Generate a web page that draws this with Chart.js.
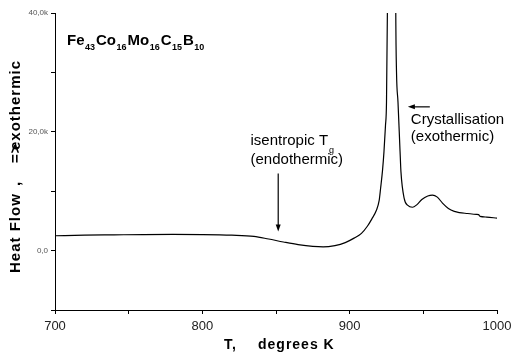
<!DOCTYPE html>
<html>
<head>
<meta charset="utf-8">
<script src="https://cdn.jsdelivr.net/npm/chart.js@4.4.1/dist/chart.umd.min.js"></script>
<style>
html, body { margin: 0; padding: 0; background: #fff; }
#wrap { width: 511px; height: 354px; }
</style>
</head>
<body>
<div id="wrap"><canvas id="dscChart"></canvas></div>
<script>
// DSC trace, temperature (K) vs heat flow
var temps = [700, 720, 740, 760, 780, 800, 820, 835, 845, 855, 865, 875, 882, 890, 897, 903, 908, 912, 915, 918,
    920, 921, 922.3, 923.3, 924.3, 925, 925.6, 926, 928.5, 931, 931.3, 931.8, 932.8, 934.2, 934.8, 937, 939.5,
    942.6, 945.5, 949, 953, 956.2, 959.5, 963, 967, 971, 974.4, 980, 986, 987.5, 988.5, 993, 1000];
var heatFlow = [2500, 2600, 2650, 2700, 2720, 2700, 2600, 2400, 1950, 1450, 1000, 700, 620, 850, 1350, 2100, 2900, 4100, 5300, 6700,
    8400, 10500, 13500, 16700, 21000, 25000, 40000, 60000, 80000, 60000, 40000, 30000, 25000, 16700, 13300, 8800, 7600,
    7300, 7700, 8600, 9200, 9350, 9000, 8000, 7100, 6600, 6400, 6250, 6100, 6050, 5750, 5650, 5450];

var xLabelValues = [700, 800, 900, 1000];
var yLabelValues = [0, 20000, 40000];
var yLabelTexts = ["0,0", "20,0k", "40,0k"];

var formulaParts = [["Fe", "43"], ["Co", "16"], ["Mo", "16"], ["C", "15"], ["B", "10"]];

var FONT = "'Liberation Sans', Arial, sans-serif";

function arrow(ctx, x1, y1, x2, y2) {
    var ang = Math.atan2(y2 - y1, x2 - x1);
    ctx.beginPath();
    ctx.moveTo(x1, y1);
    ctx.lineTo(x2 - 4 * Math.cos(ang), y2 - 4 * Math.sin(ang));
    ctx.lineWidth = 1.2;
    ctx.stroke();
    ctx.beginPath();
    ctx.moveTo(x2, y2);
    ctx.lineTo(x2 - 7 * Math.cos(ang) + 2.5 * Math.sin(ang), y2 - 7 * Math.sin(ang) - 2.5 * Math.cos(ang));
    ctx.lineTo(x2 - 7 * Math.cos(ang) - 2.5 * Math.sin(ang), y2 - 7 * Math.sin(ang) + 2.5 * Math.cos(ang));
    ctx.closePath();
    ctx.fill();
}

var annotate = {
    id: 'annotate',
    afterDraw: function (chart) {
        var ctx = chart.ctx, xs = chart.scales.x, ys = chart.scales.y, a = chart.chartArea;
        ctx.save();
        ctx.fillStyle = '#000';
        ctx.strokeStyle = '#000';

        // alloy formula
        var fx = a.left + 12, fy = a.top + 32;
        ctx.textBaseline = 'alphabetic';
        ctx.textAlign = 'left';
        formulaParts.forEach(function (p) {
            ctx.font = 'bold 15px ' + FONT;
            ctx.fillText(p[0], fx, fy);
            fx += ctx.measureText(p[0]).width + 0.5;
            ctx.font = 'bold 9px ' + FONT;
            ctx.fillText(p[1], fx, fy + 5);
            fx += ctx.measureText(p[1]).width + 1;
        });

        // glass transition note
        ctx.font = '15px ' + FONT;
        ctx.textBaseline = 'middle';
        var tx = xs.getPixelForValue(832.7);
        ctx.fillText('isentropic T', tx, ys.getPixelForValue(18500));
        var tw = ctx.measureText('isentropic T').width;
        ctx.font = '9px ' + FONT;
        ctx.fillText('g', tx + tw + 1, ys.getPixelForValue(18500) + 10);
        ctx.font = '15px ' + FONT;
        ctx.fillText('(endothermic)', tx, ys.getPixelForValue(15200));
        var ax = xs.getPixelForValue(851.5);
        arrow(ctx, ax, ys.getPixelForValue(13000), ax, ys.getPixelForValue(3200));

        // crystallisation note
        var cx = xs.getPixelForValue(941.5);
        ctx.fillText('Crystallisation', cx, ys.getPixelForValue(22000));
        ctx.fillText('(exothermic)', cx, ys.getPixelForValue(19200));
        arrow(ctx, xs.getPixelForValue(954.4), ys.getPixelForValue(24200), xs.getPixelForValue(939.5), ys.getPixelForValue(24200));

        // axis titles
        ctx.font = 'bold 14px ' + FONT;
        ctx.letterSpacing = '1px';
        ctx.textBaseline = 'middle';
        ctx.fillText('T,', 224, 345);
        ctx.fillText('degrees K', 258, 345);

        ctx.font = 'bold 15px ' + FONT;
        var segs = [['Heat Flow', 273], [',', 186], ['=>', 163], ['exothermic', 150]];
        segs.forEach(function (s) {
            ctx.save();
            ctx.translate(16, s[1]);
            ctx.rotate(-Math.PI / 2);
            ctx.fillText(s[0], 0, 0);
            ctx.restore();
        });
        ctx.restore();
    }
};

var ctx = document.getElementById("dscChart").getContext("2d");
new Chart(ctx, {
    type: 'line',
    data: {
        labels: temps,
        datasets: [{
            data: temps.map(function (t, i) { return { x: t, y: heatFlow[i] }; }),
            borderColor: '#000',
            borderWidth: 1.2,
            pointRadius: 0,
            fill: false,
            cubicInterpolationMode: 'monotone'
        }]
    },
    options: {
        responsive: true,
        maintainAspectRatio: false,
        animation: false,
        layout: { padding: { top: 13, right: 14, left: 0, bottom: 0 } },
        plugins: { legend: { display: false }, tooltip: { enabled: false } },
        scales: {
            x: {
                type: 'linear',
                min: 700,
                max: 1000,
                afterFit: function (s) {
                    s.height = 44;
                    s.paddingLeft = 0;
                    s.paddingRight = 0;
                },
                ticks: {
                    stepSize: 50,
                    maxRotation: 0,
                    padding: 5,
                    color: '#222',
                    font: { family: FONT, size: 13 },
                    callback: function (v) { return xLabelValues.indexOf(v) >= 0 ? String(v) : ''; }
                },
                grid: { drawOnChartArea: false, drawTicks: true, tickLength: 4, color: '#000' },
                border: { display: true, color: '#000', width: 1 }
            },
            y: {
                min: -10000,
                max: 40000,
                afterFit: function (s) { s.width = 55; },
                ticks: {
                    stepSize: 10000,
                    padding: 3,
                    color: '#555',
                    font: { family: FONT, size: 8 },
                    callback: function (v) {
                        var i = yLabelValues.indexOf(v);
                        return i >= 0 ? yLabelTexts[i] : '';
                    }
                },
                grid: { drawOnChartArea: false, drawTicks: true, tickLength: 4, color: '#000' },
                border: { display: true, color: '#000', width: 1 }
            }
        }
    },
    plugins: [annotate]
});
</script>
</body>
</html>
